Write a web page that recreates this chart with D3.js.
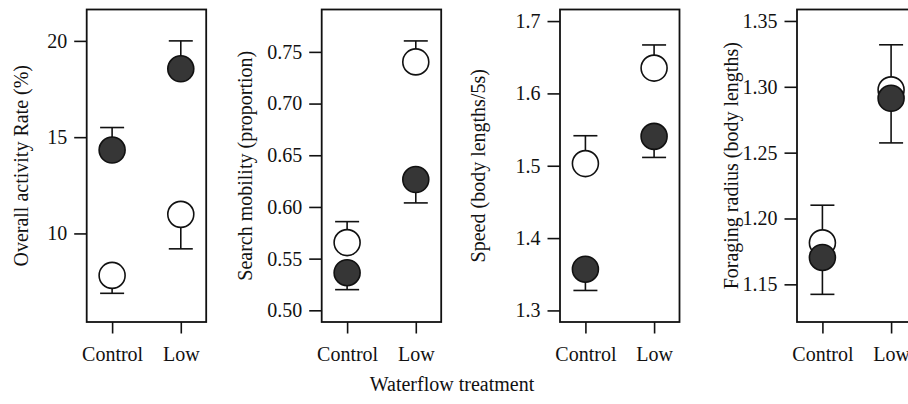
<!DOCTYPE html>
<html>
<head>
<meta charset="utf-8">
<script src="https://cdn.jsdelivr.net/npm/d3@7"></script>
<style>
  body { margin: 0; background: #fff; }
  svg { display: block; font-family: "Liberation Serif", "Times New Roman", serif; }
</style>
</head>
<body>
<svg id="chart"></svg>
<script>
const width = 908;
const height = 404;

// ----- DATA -----
const categories = ["Control", "Low"];

const panelTitles = [
  "Overall activity Rate (%)",
  "Search mobility (proportion)",
  "Speed (body lengths/5s)",
  "Foraging radius (body lengths)"
];
const panelDomains = [[5.4, 21.63], [0.4887, 0.791], [1.284, 1.716], [1.1214, 1.3587]];
const panelTicks = [
  [10, 15, 20],
  [0.50, 0.55, 0.60, 0.65, 0.70, 0.75],
  [1.3, 1.4, 1.5, 1.6, 1.7],
  [1.15, 1.20, 1.25, 1.30, 1.35]
];
const panelTickFormats = ["d", ".2f", ".1f", ".2f"];

// open circles: mean and end of the (one-sided) error bar
const openMeans = [[7.82, 10.99], [0.5655, 0.7403], [1.503, 1.635], [1.1815, 1.2977]];
const openErrEnds = [[6.89, 9.2], [0.5858, 0.7606], [1.5415, 1.667], [1.2101, 1.3319]];
// filled circles
const filledMeans = [[14.33, 18.55], [0.5364, 0.6265], [1.357, 1.5406], [1.1704, 1.2913]];
const filledErrEnds = [[15.5, 20.0], [0.52, 0.6039], [1.3276, 1.5115], [1.1424, 1.2574]];

const xTitle = "Waterflow treatment";

// ----- LAYOUT -----
const panelLefts = [86.7, 321.7, 560, 797];
const titleX = [21, 245, 478, 731];
const boxTop = 9.5;
const boxBottom = 322;
const boxWidth = 119.5;
const r = 13;

const svg = d3.select("#chart")
  .attr("width", width)
  .attr("height", height)
  .attr("viewBox", [0, 0, width, height]);

panelTitles.forEach((title, i) => {
  const g = svg.append("g").attr("transform", `translate(${panelLefts[i]},0)`);

  const x = d3.scalePoint()
    .domain(categories)
    .range([0, boxWidth])
    .padding(0.37);

  const y = d3.scaleLinear()
    .domain(panelDomains[i])
    .range([boxBottom, boxTop]);

  // y axis
  const yAxis = g.append("g")
    .call(d3.axisLeft(y)
      .tickValues(panelTicks[i])
      .tickFormat(d3.format(panelTickFormats[i]))
      .tickSize(12.5)
      .tickPadding(7));
  yAxis.select(".domain").remove();
  yAxis.selectAll(".tick line").attr("stroke", "#111").attr("stroke-width", 1.6);
  yAxis.selectAll(".tick text")
    .attr("fill", "#111")
    .style("font-size", "20px")
    .style("font-family", "'Liberation Serif', 'Times New Roman', serif");

  // x axis
  const xAxis = g.append("g")
    .attr("transform", `translate(0,${boxBottom})`)
    .call(d3.axisBottom(x).tickSize(11.5).tickPadding(13));
  xAxis.select(".domain").remove();
  xAxis.selectAll(".tick line").attr("stroke", "#111").attr("stroke-width", 1.6);
  xAxis.selectAll(".tick text")
    .attr("fill", "#111")
    .style("font-size", "20px")
    .style("font-family", "'Liberation Serif', 'Times New Roman', serif");

  // frame
  g.append("rect")
    .attr("x", 0)
    .attr("y", boxTop)
    .attr("width", boxWidth)
    .attr("height", boxBottom - boxTop)
    .attr("fill", "none")
    .attr("stroke", "#111")
    .attr("stroke-width", 1.8);

  // y title
  svg.append("text")
    .attr("transform", `translate(${titleX[i]},${(boxTop + boxBottom) / 2}) rotate(-90)`)
    .attr("text-anchor", "middle")
    .attr("dy", "0.35em")
    .attr("fill", "#111")
    .style("font-size", "20px")
    .text(title);

  const pts = [];
  categories.forEach((c, j) => {
    pts.push({ cat: c, mean: openMeans[i][j], end: openErrEnds[i][j], filled: false });
  });
  categories.forEach((c, j) => {
    pts.push({ cat: c, mean: filledMeans[i][j], end: filledErrEnds[i][j], filled: true });
  });

  // error bars
  const eb = g.append("g")
    .selectAll("g")
    .data(pts)
    .join("g")
    .attr("stroke", "#111")
    .attr("stroke-width", 1.6);
  eb.append("line")
    .attr("x1", d => x(d.cat))
    .attr("x2", d => x(d.cat))
    .attr("y1", d => y(d.mean))
    .attr("y2", d => y(d.end));
  eb.append("line")
    .attr("x1", d => x(d.cat) - 12)
    .attr("x2", d => x(d.cat) + 12)
    .attr("y1", d => y(d.end))
    .attr("y2", d => y(d.end));

  // points: open first, filled on top
  g.append("g")
    .selectAll("circle")
    .data(pts)
    .join("circle")
    .attr("cx", d => x(d.cat))
    .attr("cy", d => y(d.mean))
    .attr("r", r)
    .attr("fill", d => d.filled ? "#363636" : "#fff")
    .attr("stroke", "#111")
    .attr("stroke-width", 1.6);
});

svg.append("text")
  .attr("x", 452)
  .attr("y", 391)
  .attr("text-anchor", "middle")
  .attr("fill", "#111")
  .style("font-size", "20px")
  .text(xTitle);
</script>
</body>
</html>
